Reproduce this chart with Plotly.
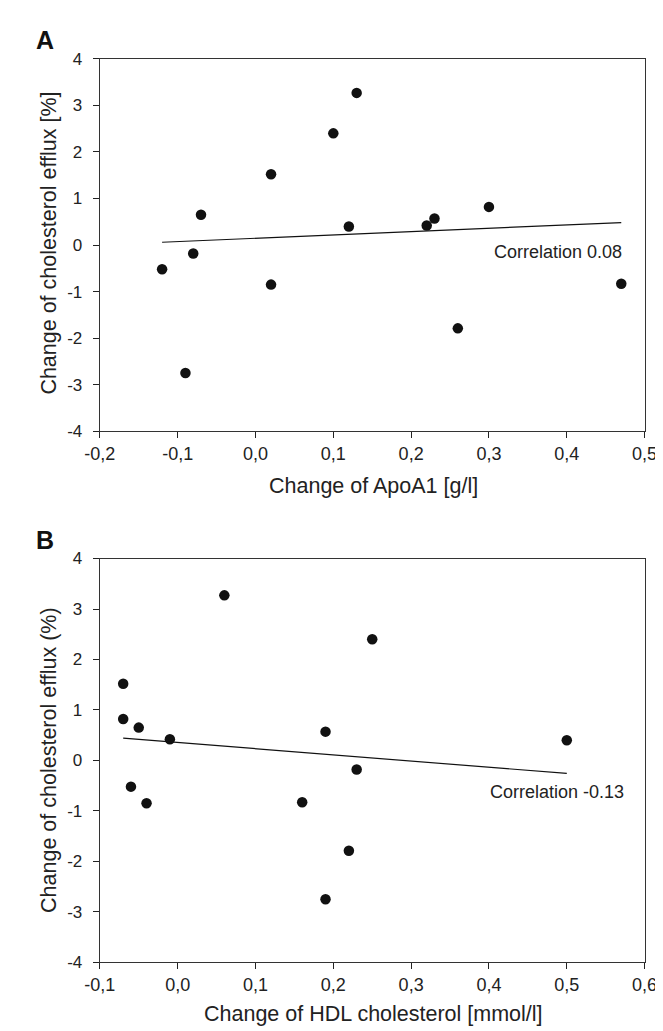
import numpy as np
import plotly.graph_objects as go

# panel A: change of ApoA1 [g/l] vs change of cholesterol efflux [%]
apoa1_change = [-0.12, -0.09, -0.08, -0.07, 0.02, 0.02, 0.10, 0.12, 0.13, 0.22, 0.23, 0.26, 0.30, 0.47]
efflux_a = [-0.52, -2.75, -0.18, 0.65, 1.52, -0.85, 2.40, 0.40, 3.27, 0.42, 0.57, -1.79, 0.82, -0.83]

# panel B: change of HDL cholesterol [mmol/l] vs change of cholesterol efflux (%)
hdl_change = [-0.07, -0.07, -0.05, -0.06, -0.04, -0.01, 0.06, 0.16, 0.19, 0.19, 0.22, 0.23, 0.25, 0.50]
efflux_b = [1.52, 0.82, 0.65, -0.52, -0.85, 0.42, 3.27, -0.83, 0.57, -2.75, -1.79, -0.18, 2.40, 0.40]

xa_tickvals = [-0.2, -0.1, 0.0, 0.1, 0.2, 0.3, 0.4, 0.5]
xa_ticktext = ["-0,2", "-0,1", "0,0", "0,1", "0,2", "0,3", "0,4", "0,5"]
xb_tickvals = [-0.1, 0.0, 0.1, 0.2, 0.3, 0.4, 0.5, 0.6]
xb_ticktext = ["-0,1", "0,0", "0,1", "0,2", "0,3", "0,4", "0,5", "0,6"]
y_tickvals = [4, 3, 2, 1, 0, -1, -2, -3, -4]
y_ticktext = ["4", "3", "2", "1", "0", "-1", "-2", "-3", "-4"]

corr_a = "Correlation 0.08"
corr_b = "Correlation -0.13"

FONT = "Liberation Sans, Arial, sans-serif"
W, H = 663, 1031


def fit_line(x, y):
    """Least squares line between the smallest and largest x."""
    slope, icpt = np.polyfit(x, y, 1)
    xs = np.array([min(x), max(x)])
    return xs, slope * xs + icpt


fig = go.Figure()

for x, y, xa, ya in [(apoa1_change, efflux_a, "x", "y"), (hdl_change, efflux_b, "x2", "y2")]:
    lx, ly = fit_line(x, y)
    fig.add_trace(go.Scatter(x=lx, y=ly, mode="lines", line=dict(color="#111", width=1.2),
                             xaxis=xa, yaxis=ya, showlegend=False, hoverinfo="skip"))
    fig.add_trace(go.Scatter(x=x, y=y, mode="markers", marker=dict(color="#111", size=10.5),
                             xaxis=xa, yaxis=ya, showlegend=False))

axis_style = dict(showgrid=False, zeroline=False, showline=True, linecolor="#333", linewidth=1.3,
                  mirror=True, ticks="outside", ticklen=6, tickcolor="#222", tickwidth=1.2)

x_dom = [79.3 / W, 649 / W]
fig.update_layout(
    width=W, height=H,
    margin=dict(l=0, r=0, t=0, b=0),
    paper_bgcolor="white", plot_bgcolor="white",
    font=dict(family=FONT, color="#222"),
    xaxis=dict(domain=x_dom, range=[-0.2, 0.5], tickvals=xa_tickvals, ticktext=xa_ticktext,
               tickfont=dict(size=18), anchor="y", **axis_style),
    yaxis=dict(domain=[1 - 422 / H, 1 - 42.7 / H], range=[-4, 4], tickvals=y_tickvals,
               ticktext=y_ticktext, tickfont=dict(size=17), ticklabelstandoff=7, anchor="x", **axis_style),
    xaxis2=dict(domain=x_dom, range=[-0.1, 0.6], tickvals=xb_tickvals, ticktext=xb_ticktext,
                tickfont=dict(size=18), anchor="y2", **axis_style),
    yaxis2=dict(domain=[1 - 963 / H, 1 - 551.7 / H], range=[-4, 4], tickvals=y_tickvals,
                ticktext=y_ticktext, tickfont=dict(size=17), ticklabelstandoff=7, anchor="x2", **axis_style),
)

title_font = dict(family=FONT, size=21.5, color="#222")
annots = [
    dict(text="A", x=10 / W, y=1 - 23 / H, xanchor="left", font=dict(family=FONT, size=25, color="#111"),
         bold=True),
    dict(text="B", x=10 / W, y=1 - 533 / H, xanchor="left", font=dict(family=FONT, size=25, color="#111"),
         bold=True),
    dict(text="Change of ApoA1 [g/l]", x=366 / W, y=1 - 478 / H, font=title_font),
    dict(text="Change of HDL cholesterol [mmol/l]", x=366 / W, y=1 - 1016 / H, font=title_font),
    dict(text="Change of cholesterol efflux [%]", x=26 / W, y=1 - 230 / H, textangle=-90, font=title_font),
    dict(text="Change of cholesterol efflux (%)", x=26 / W, y=1 - 757 / H, textangle=-90, font=title_font),
]
for a in annots:
    bold = a.pop("bold", False)
    if bold:
        a["text"] = "<b>" + a["text"] + "</b>"
    fig.add_annotation(xref="paper", yref="paper", showarrow=False, yanchor="middle",
                       **({"xanchor": "center"} | a))

fig.add_annotation(text=corr_a, x=0.474, y=-0.14, xref="x", yref="y", xanchor="right", yanchor="middle",
                   showarrow=False, font=dict(family=FONT, size=18, color="#222"))
fig.add_annotation(text=corr_b, x=0.576, y=-0.63, xref="x2", yref="y2", xanchor="right", yanchor="middle",
                   showarrow=False, font=dict(family=FONT, size=18, color="#222"))

fig.write_html("out.html")
